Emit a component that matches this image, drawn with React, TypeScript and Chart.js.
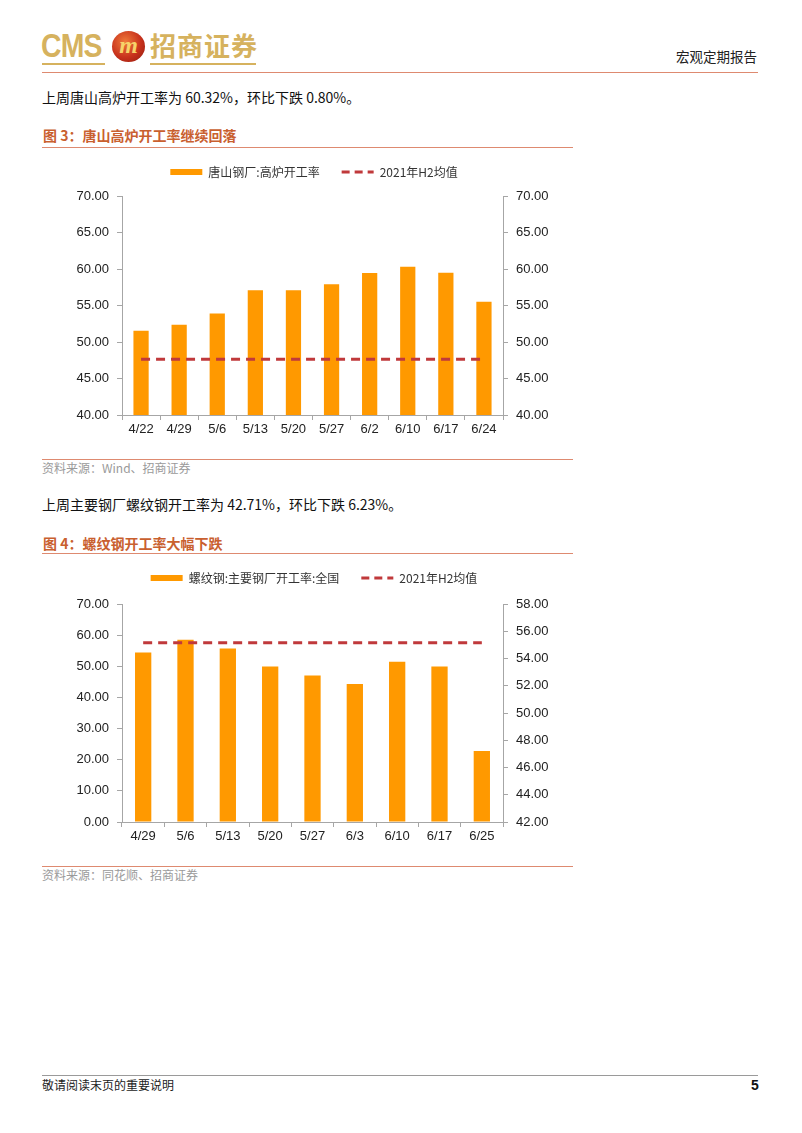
import React, { useEffect, useRef } from "react";
import { Chart, registerables } from "chart.js";

Chart.register(...registerables);

const BAR_COLOR = "#FF9900";
const AVG_COLOR = "#C0393B";
const AXIS_COLOR = "#A6A6A6";
const FONT = '"Liberation Sans", Arial, "Noto Sans CJK SC", sans-serif';
const CJK = '"Noto Sans CJK SC", "Liberation Sans", sans-serif';

// Chart 1: 唐山高炉开工率
const cat1 = ["4/22", "4/29", "5/6", "5/13", "5/20", "5/27", "6/2", "6/10", "6/17", "6/24"];
const blastRate = [51.55, 52.37, 53.9, 57.1, 57.1, 57.9, 59.45, 60.32, 59.5, 55.5];
const avg1 = [47.62, 47.62, 47.62, 47.62, 47.62, 47.62, 47.62, 47.62, 47.62, 47.62];
const label1Bar = "唐山钢厂:高炉开工率";
const labelAvg = "2021年H2均值";

// Chart 2: 螺纹钢开工率
const cat2 = ["4/29", "5/6", "5/13", "5/20", "5/27", "6/3", "6/10", "6/17", "6/25"];
const rebarRate = [54.46, 58.5, 55.75, 49.97, 47.08, 44.3, 51.47, 49.97, 22.8];
const avg2 = [55.16, 55.16, 55.16, 55.16, 55.16, 55.16, 55.16, 55.16, 55.16];
const label2Bar = "螺纹钢:主要钢厂开工率:全国";

type AxisCfg = { min: number; max: number; step: number };

function legendHeightPlugin(h: number) {
  return {
    id: "legendHeight",
    afterInit(chart: any) {
      const lg = chart.legend;
      if (!lg) return;
      const orig = lg.fit.bind(lg);
      lg.fit = function () {
        orig();
        this.height = h;
      };
    },
  };
}

function makeConfig(
  cats: string[],
  bars: number[],
  avg: number[],
  barLabel: string,
  left: AxisCfg,
  right: AxisCfg,
  avgOnRight: boolean,
  barPct: number,
  legendH: number
): any {
  const tickFont = { family: FONT, size: 13 };
  const yGrid = { drawOnChartArea: false, drawTicks: true, tickLength: 5, color: AXIS_COLOR };
  return {
    type: "bar",
    plugins: [legendHeightPlugin(legendH)],
    data: {
      labels: cats,
      datasets: [
        {
          type: "line",
          label: labelAvg,
          data: avg,
          yAxisID: avgOnRight ? "y1" : "y",
          borderColor: AVG_COLOR,
          backgroundColor: AVG_COLOR,
          borderWidth: 3,
          borderDash: [9, 6],
          pointRadius: 0,
          fill: false,
          order: 0,
        },
        {
          type: "bar",
          label: barLabel,
          data: bars,
          yAxisID: "y",
          backgroundColor: BAR_COLOR,
          borderWidth: 0,
          barPercentage: barPct,
          categoryPercentage: 1,
          order: 1,
        },
      ],
    },
    options: {
      animation: false,
      responsive: false,
      maintainAspectRatio: false,
      layout: { padding: 0 },
      plugins: {
        tooltip: { enabled: false },
        legend: {
          display: true,
          position: "top",
          labels: {
            usePointStyle: true,
            pointStyleWidth: 32,
            boxHeight: 6,
            padding: 22,
            color: "#333333",
            font: { family: CJK, size: 12 },
            generateLabels: (chart: any) => {
              const items = Chart.defaults.plugins.legend.labels.generateLabels(chart);
              const out = items.map((it: any) =>
                it.text === labelAvg
                  ? { ...it, pointStyle: "line", lineWidth: 3, strokeStyle: AVG_COLOR, fillStyle: AVG_COLOR, lineDash: [8, 5], lineCap: "butt" }
                  : { ...it, pointStyle: "rect", lineWidth: 0, fillStyle: BAR_COLOR, strokeStyle: BAR_COLOR, lineDash: [] }
              );
              out.sort((a: any, b: any) => (a.text === labelAvg ? 1 : 0) - (b.text === labelAvg ? 1 : 0));
              return out;
            },
          },
        },
      },
      scales: {
        x: {
          type: "category",
          offset: true,
          grid: { offset: true, drawOnChartArea: false, drawTicks: true, tickLength: 5, color: AXIS_COLOR },
          border: { color: AXIS_COLOR, width: 1 },
          ticks: { color: "#222222", font: tickFont, padding: 2, maxRotation: 0, autoSkip: false },
          afterFit: (s: any) => {
            s.height = 25;
          },
        },
        y: {
          position: "left",
          min: left.min,
          max: left.max,
          grid: yGrid,
          border: { color: AXIS_COLOR, width: 1 },
          ticks: {
            stepSize: left.step,
            color: "#222222",
            font: tickFont,
            padding: 8,
            callback: (v: any) => Number(v).toFixed(2),
          },
          afterFit: (s: any) => {
            s.width = 80;
          },
        },
        y1: {
          position: "right",
          min: right.min,
          max: right.max,
          grid: yGrid,
          border: { color: AXIS_COLOR, width: 1 },
          ticks: {
            stepSize: right.step,
            color: "#222222",
            font: tickFont,
            padding: 8,
            callback: (v: any) => Number(v).toFixed(2),
          },
          afterFit: (s: any) => {
            s.width = 83;
          },
        },
      },
    },
  };
}

function ChartBox(props: { config: any; left: number; top: number; width: number; height: number }) {
  const ref = useRef<HTMLCanvasElement | null>(null);
  useEffect(() => {
    if (!ref.current) return;
    const chart = new Chart(ref.current, props.config);
    return () => chart.destroy();
  }, []);
  return (
    <canvas
      ref={ref}
      width={props.width}
      height={props.height}
      style={{ position: "absolute", left: props.left, top: props.top, width: props.width, height: props.height }}
    />
  );
}

const abs = (s: React.CSSProperties): React.CSSProperties => ({ position: "absolute", margin: 0, whiteSpace: "nowrap", ...s });

export default function App() {
  const gold = "#D6B25E";
  const titleColor = "#C9602F";
  const lineColor = "#DE8A70";
  const cfg1 = makeConfig(cat1, blastRate, avg1, label1Bar, { min: 40, max: 70, step: 5 }, { min: 40, max: 70, step: 5 }, false, 0.4, 52);
  const cfg2 = makeConfig(cat2, rebarRate, avg2, label2Bar, { min: 0, max: 70, step: 10 }, { min: 42, max: 58, step: 2 }, true, 0.385, 54);
  const bodyFont: React.CSSProperties = { fontFamily: CJK, fontSize: 14, color: "#111", lineHeight: "18px" };
  return (
    <div style={{ position: "absolute", left: 0, top: 0, width: 802, height: 1133, background: "#fff", overflow: "hidden" }}>
      {/* Header */}
      <div
        style={abs({
          left: 41,
          top: 28,
          fontFamily: '"Liberation Sans", Arial, sans-serif',
          fontWeight: 700,
          fontSize: 33,
          color: gold,
          lineHeight: "36px",
          letterSpacing: -1,
          transform: "scaleX(0.86)",
          transformOrigin: "left top",
        })}
      >
        CMS
      </div>
      <div style={abs({ left: 42, top: 63, width: 63, height: 2, background: gold })} />
      <div
        style={abs({
          left: 112,
          top: 31,
          width: 33,
          height: 31,
          borderRadius: "50%",
          background: "radial-gradient(circle at 40% 35%, #F07A3A 0%, #C8321C 55%, #8E1A0E 100%)",
          color: "#F6D36A",
          fontFamily: '"Liberation Serif", serif',
          fontWeight: 700,
          fontStyle: "italic",
          fontSize: 24,
          lineHeight: "28px",
          textAlign: "center",
        })}
      >
        m
      </div>
      <div style={abs({ left: 150, top: 29, fontFamily: CJK, fontWeight: 700, fontSize: 26, color: gold, lineHeight: "32px", letterSpacing: 1 })}>招商证券</div>
      <div style={abs({ left: 150, top: 63, width: 106, height: 2, background: gold })} />
      <div style={abs({ left: 676, top: 47, fontFamily: CJK, fontSize: 13.5, color: "#222", lineHeight: "18px" })}>宏观定期报告</div>
      <div style={abs({ left: 42, top: 72, width: 716, height: 1, background: lineColor })} />

      {/* Section 1 */}
      <div style={abs({ left: 42, top: 88, ...bodyFont })}>上周唐山高炉开工率为 60.32%，环比下跌 0.80%。</div>
      <div style={abs({ left: 43, top: 126, fontFamily: CJK, fontWeight: 700, fontSize: 14, color: titleColor, lineHeight: "18px" })}>图 3：唐山高炉开工率继续回落</div>
      <div style={abs({ left: 42, top: 147, width: 531, height: 1, background: lineColor })} />
      <ChartBox config={cfg1} left={42} top={144} width={544} height={296} />
      <div style={abs({ left: 42, top: 459, width: 531, height: 1, background: lineColor })} />
      <div style={abs({ left: 42, top: 460, fontFamily: CJK, fontSize: 12, color: "#9A9A9A", lineHeight: "16px" })}>资料来源：Wind、招商证券</div>

      {/* Section 2 */}
      <div style={abs({ left: 42, top: 495, ...bodyFont })}>上周主要钢厂螺纹钢开工率为 42.71%，环比下跌 6.23%。</div>
      <div style={abs({ left: 43, top: 534, fontFamily: CJK, fontWeight: 700, fontSize: 14, color: titleColor, lineHeight: "18px" })}>图 4：螺纹钢开工率大幅下跌</div>
      <div style={abs({ left: 42, top: 553, width: 531, height: 1, background: lineColor })} />
      <ChartBox config={cfg2} left={42} top={550} width={544} height={297} />
      <div style={abs({ left: 42, top: 866, width: 531, height: 1, background: lineColor })} />
      <div style={abs({ left: 42, top: 867, fontFamily: CJK, fontSize: 12, color: "#9A9A9A", lineHeight: "16px" })}>资料来源：同花顺、招商证券</div>

      {/* Footer */}
      <div style={abs({ left: 42, top: 1075, width: 716, height: 1, background: "#9A9A9A" })} />
      <div style={abs({ left: 42, top: 1077, fontFamily: CJK, fontSize: 12, color: "#222", lineHeight: "16px" })}>敬请阅读末页的重要说明</div>
      <div style={abs({ left: 751, top: 1076, fontFamily: '"Liberation Sans", Arial, sans-serif', fontWeight: 700, fontSize: 14, color: "#111", lineHeight: "18px" })}>5</div>
    </div>
  );
}
